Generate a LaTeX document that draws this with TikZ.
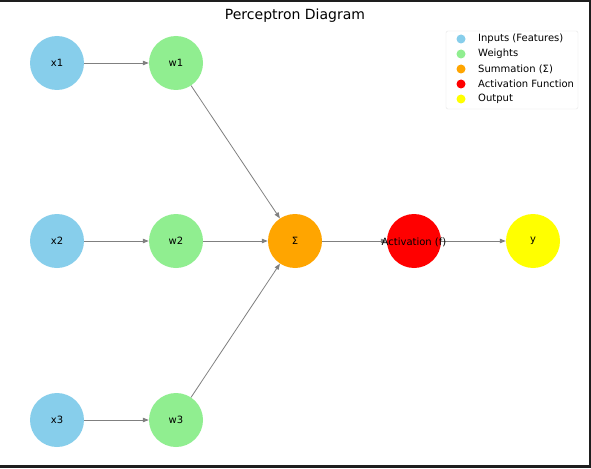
\documentclass[tikz,border=0pt]{standalone}
\usepackage{fontspec}
\setmainfont{DejaVu Sans}
\usetikzlibrary{arrows.meta}
\definecolor{inputblue}{HTML}{87CEEB}
\definecolor{weightgreen}{HTML}{90EE90}
\definecolor{sumorange}{HTML}{FFA500}
\definecolor{actred}{HTML}{FF0000}
\definecolor{outyellow}{HTML}{FFFF00}
\definecolor{framegray}{HTML}{1E1E1E}
\definecolor{edgegray}{HTML}{808080}
\begin{document}
\begin{tikzpicture}[x=1pt,y=-1pt]

      \useasboundingbox (0,0) rectangle (591,468);
      \fill[white] (0,0) rectangle (591,468);
      \fill[framegray] (0,0) rectangle (591,2);
      \fill[framegray] (0,465) rectangle (591,468);
      \fill[framegray] (589,0) rectangle (591,468);

      \node (title) at (295,16) {\fontsize{14}{16}\selectfont Perceptron Diagram};

      \begin{scope}[every node/.style={circle, minimum size=54pt, inner sep=0pt,
          font=\fontsize{10}{12}\selectfont}]
        \node[fill=inputblue]   (x1)  at (57,63)   {x1};
        \node[fill=inputblue]   (x2)  at (57,241)  {x2};
        \node[fill=inputblue]   (x3)  at (57,420)  {x3};
        \node[fill=weightgreen] (w1)  at (176,63)  {w1};
        \node[fill=weightgreen] (w2)  at (176,241) {w2};
        \node[fill=weightgreen] (w3)  at (176,420) {w3};
        \node[fill=sumorange]   (sum) at (295,241) {Σ};
        \node[fill=actred]      (act) at (414,241) {};
        \node[fill=outyellow]   (y)   at (533,241) {y};
      \end{scope}

      \begin{scope}[every edge/.style={draw=edgegray, line width=0.8pt,
          -{Triangle[length=6pt,width=4.5pt]}}]
        \path (x1)  edge (w1);
        \path (x2)  edge (w2);
        \path (x3)  edge (w3);
        \path (w1)  edge (sum);
        \path (w2)  edge (sum);
        \path (w3)  edge (sum);
        \path (sum) edge (act);
        \path (act) edge (y);
      \end{scope}

      % label sits on top of the arrow head
      \node (actlabel) at (414,242) {\fontsize{10}{12}\selectfont Activation (f)};

      % legend
      \draw[gray!20, fill=white, rounded corners=2pt] (446,31) rectangle (578,109);
      \begin{scope}[every node/.style={circle, minimum size=9pt, inner sep=0pt}]
        \node[fill=inputblue]   (leg1) at (461,39) {};
        \node[fill=weightgreen] (leg2) at (461,54) {};
        \node[fill=sumorange]   (leg3) at (461,69) {};
        \node[fill=actred]      (leg4) at (461,84) {};
        \node[fill=outyellow]   (leg5) at (461,99) {};
      \end{scope}
      \begin{scope}[every node/.style={anchor=west, inner sep=0pt,
          font=\fontsize{10}{12}\selectfont}]
        \node (txt1) at (478,39) {Inputs (Features)};
        \node (txt2) at (478,54) {Weights};
        \node (txt3) at (478,69) {Summation (Σ)};
        \node (txt4) at (478,84) {Activation Function};
        \node (txt5) at (478,99) {Output};
      \end{scope}

    \end{tikzpicture}
\end{document}
